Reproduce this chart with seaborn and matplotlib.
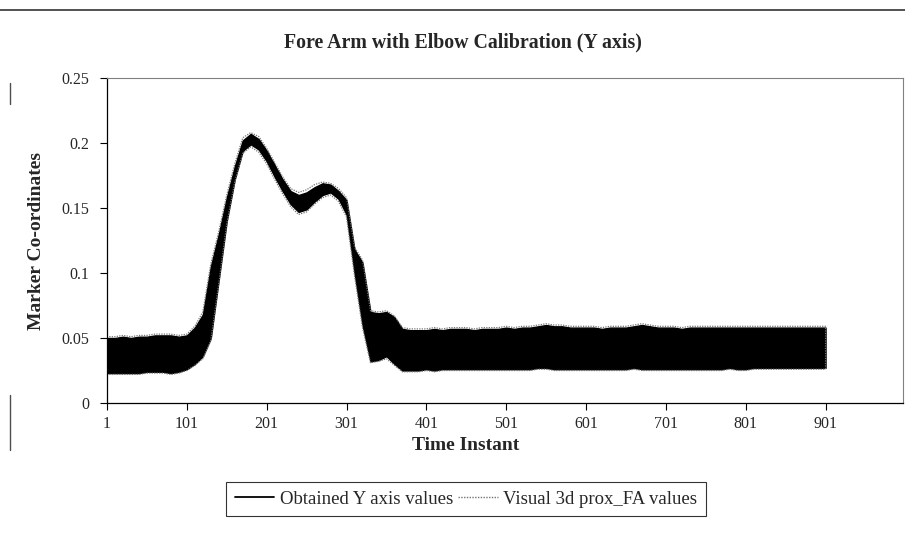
import numpy as np
import pandas as pd
import matplotlib
matplotlib.use("Agg")
import matplotlib.pyplot as plt
from matplotlib.lines import Line2D
import seaborn as sns

# ---------------- data ----------------
title = "Fore Arm with Elbow Calibration (Y axis)"
xlabel = "Time Instant"
ylabel = "Marker Co-ordinates"
series_names = ["Obtained Y axis values", "Visual 3d prox_FA values"]
xticks = [1, 101, 201, 301, 401, 501, 601, 701, 801, 901]
yticks = [0, 0.05, 0.1, 0.15, 0.2, 0.25]

# time instants of each oscillation cycle (one cycle ~ 10 samples)
t_cycle = list(range(1, 902, 10))

# upper / lower excursion of the fast oscillation in each cycle
obtained_hi = [
    0.050, 0.050, 0.051, 0.050, 0.051, 0.051, 0.052, 0.052, 0.052, 0.051,
    0.052, 0.058, 0.068, 0.105, 0.130, 0.158, 0.182, 0.202, 0.207, 0.203,
    0.194, 0.183, 0.172, 0.163, 0.160, 0.162, 0.166, 0.169, 0.168, 0.163,
    0.156, 0.118, 0.108, 0.070, 0.069, 0.070, 0.066, 0.057, 0.056, 0.056,
    0.056, 0.057, 0.056, 0.057, 0.057, 0.057, 0.056, 0.057, 0.057, 0.057,
    0.058, 0.057, 0.058, 0.058, 0.059, 0.060, 0.059, 0.059, 0.058, 0.058,
    0.058, 0.058, 0.057, 0.058, 0.058, 0.058, 0.059, 0.060, 0.059, 0.058,
    0.058, 0.058, 0.057, 0.058, 0.058, 0.058, 0.058, 0.058, 0.058, 0.058,
    0.058, 0.058, 0.058, 0.058, 0.058, 0.058, 0.058, 0.058, 0.058, 0.058,
    0.058,
]
obtained_lo = [
    0.023, 0.023, 0.023, 0.023, 0.023, 0.024, 0.024, 0.024, 0.023, 0.024,
    0.026, 0.030, 0.036, 0.050, 0.095, 0.140, 0.172, 0.194, 0.199, 0.195,
    0.186, 0.174, 0.163, 0.153, 0.147, 0.149, 0.155, 0.160, 0.162, 0.157,
    0.145, 0.100, 0.060, 0.032, 0.033, 0.036, 0.030, 0.025, 0.025, 0.025,
    0.026, 0.025, 0.026, 0.026, 0.026, 0.026, 0.026, 0.026, 0.026, 0.026,
    0.026, 0.026, 0.026, 0.026, 0.027, 0.027, 0.026, 0.026, 0.026, 0.026,
    0.026, 0.026, 0.026, 0.026, 0.026, 0.026, 0.027, 0.026, 0.026, 0.026,
    0.026, 0.026, 0.026, 0.026, 0.026, 0.026, 0.026, 0.026, 0.027, 0.026,
    0.026, 0.027, 0.027, 0.027, 0.027, 0.027, 0.027, 0.027, 0.027, 0.027,
    0.027,
]
visual_hi = [
    0.051, 0.051, 0.052, 0.051, 0.052, 0.052, 0.053, 0.053, 0.053, 0.052,
    0.053, 0.059, 0.070, 0.107, 0.132, 0.160, 0.184, 0.204, 0.208, 0.205,
    0.196, 0.185, 0.174, 0.165, 0.162, 0.164, 0.168, 0.170, 0.169, 0.165,
    0.158, 0.120, 0.110, 0.071, 0.070, 0.071, 0.067, 0.058, 0.057, 0.057,
    0.057, 0.058, 0.057, 0.058, 0.058, 0.058, 0.057, 0.058, 0.058, 0.058,
    0.059, 0.058, 0.059, 0.059, 0.060, 0.061, 0.060, 0.060, 0.059, 0.059,
    0.059, 0.059, 0.058, 0.059, 0.059, 0.059, 0.060, 0.061, 0.060, 0.059,
    0.059, 0.059, 0.058, 0.059, 0.059, 0.059, 0.059, 0.059, 0.059, 0.059,
    0.059, 0.059, 0.059, 0.059, 0.059, 0.059, 0.059, 0.059, 0.059, 0.059,
    0.059,
]
visual_lo = [
    0.022, 0.022, 0.022, 0.022, 0.022, 0.023, 0.023, 0.023, 0.022, 0.023,
    0.025, 0.029, 0.034, 0.048, 0.092, 0.138, 0.170, 0.192, 0.197, 0.193,
    0.184, 0.172, 0.161, 0.151, 0.145, 0.147, 0.153, 0.158, 0.160, 0.155,
    0.143, 0.098, 0.058, 0.031, 0.032, 0.034, 0.029, 0.024, 0.024, 0.024,
    0.025, 0.024, 0.025, 0.025, 0.025, 0.025, 0.025, 0.025, 0.025, 0.025,
    0.025, 0.025, 0.025, 0.025, 0.026, 0.026, 0.025, 0.025, 0.025, 0.025,
    0.025, 0.025, 0.025, 0.025, 0.025, 0.025, 0.026, 0.025, 0.025, 0.025,
    0.025, 0.025, 0.025, 0.025, 0.025, 0.025, 0.025, 0.025, 0.026, 0.025,
    0.025, 0.026, 0.026, 0.026, 0.026, 0.026, 0.026, 0.026, 0.026, 0.026,
    0.026,
]


def build(name, hi, lo):
    d = pd.DataFrame({"t": t_cycle + t_cycle, "value": hi + lo})
    d["series"] = name
    return d


df_obt = build(series_names[0], obtained_hi, obtained_lo)
df_vis = build(series_names[1], visual_hi, visual_lo)


def minmax(v):
    return (v.min(), v.max())


# ---------------- plot ----------------
sns.set_theme(style="white")
plt.rcParams["font.family"] = ["Liberation Serif", "DejaVu Serif"]

fig = plt.figure(figsize=(9.05, 5.37), dpi=100)
ax = fig.add_axes([107 / 905, 1 - 403 / 537, (903 - 107) / 905, (403 - 78) / 537])

# obtained values: dense oscillation -> solid black band between the excursions
sns.lineplot(data=df_obt, x="t", y="value", ax=ax, color="black",
             linewidth=0, errorbar=minmax,
             err_kws={"alpha": 1.0, "facecolor": "black",
                      "edgecolor": "black", "linewidth": 1.0},
             zorder=3, legend=False)
# visual 3d values: dotted grey outline of its band
sns.lineplot(data=df_vis, x="t", y="value", ax=ax, color="0.45",
             linewidth=0, errorbar=minmax,
             err_kws={"alpha": 1.0, "facecolor": "none",
                      "edgecolor": "0.45", "linewidth": 0.9,
                      "linestyle": (0, (1, 1))},
             zorder=4, legend=False)

ax.set_xlim(1, 998)
ax.set_ylim(0, 0.25)
ax.set_xticks(xticks)
ax.set_xticklabels([str(v) for v in xticks], fontsize=11.5)
ax.set_yticks(yticks)
ax.set_yticklabels(["0", "0.05", "0.1", "0.15", "0.2", "0.25"], fontsize=11.5)
ax.tick_params(axis="both", direction="out", length=5, width=0.8,
               color="black", bottom=True, left=True)
ax.tick_params(axis="x", pad=4)
ax.tick_params(axis="y", pad=8)

for side in ["left", "bottom"]:
    ax.spines[side].set_color("black")
    ax.spines[side].set_linewidth(0.9)
for side in ["top", "right"]:
    ax.spines[side].set_color("0.5")
    ax.spines[side].set_linewidth(0.8)
    ax.spines[side].set_linestyle((0, (1, 1)))

ax.set_xlabel(xlabel, fontsize=14, fontweight="bold")
ax.set_ylabel(ylabel, fontsize=14, fontweight="bold")
ax.xaxis.set_label_coords((466 - 107) / (903 - 107), -(437 - 403) / (403 - 78))
ax.yaxis.set_label_coords(-(107 - 45) / (903 - 107), 0.5)

fig.text(463 / 905, 1 - 42 / 537, title, ha="center", va="center",
         fontsize=14.3, fontweight="bold")

# legend
handles = [Line2D([], [], color="black", linewidth=1.3),
           Line2D([], [], color="0.45", linestyle=(0, (1, 1)), linewidth=1.0)]
leg = fig.legend(handles, series_names, loc="center",
                 bbox_to_anchor=(466 / 905, 1 - 499 / 537), ncol=2,
                 frameon=True, fancybox=False, fontsize=13.5,
                 handlelength=2.1, handletextpad=0.3, columnspacing=0.3,
                 borderpad=0.45)
leg.get_frame().set_edgecolor("black")
leg.get_frame().set_linewidth(0.8)

# outer frame remnants of the scanned page
fig.add_artist(Line2D([0, 1], [1 - 10 / 537] * 2, transform=fig.transFigure,
                      color="0.2", linewidth=1.2))
fig.add_artist(Line2D([10 / 905] * 2, [1 - 83 / 537, 1 - 104 / 537],
                      transform=fig.transFigure, color="0.3", linewidth=1.0))
fig.add_artist(Line2D([10 / 905] * 2, [1 - 395 / 537, 1 - 450 / 537],
                      transform=fig.transFigure, color="0.3", linewidth=1.0))

fig.savefig("out.png", dpi=100, facecolor="white")
